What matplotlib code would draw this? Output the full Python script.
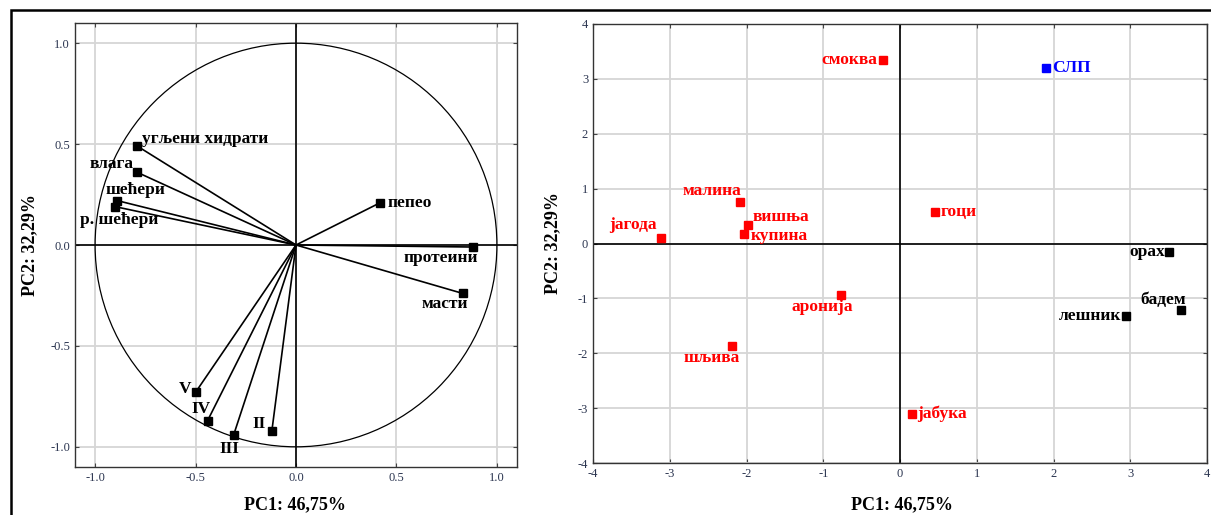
import matplotlib
matplotlib.use("Agg")
import matplotlib.pyplot as plt
import numpy as np
from matplotlib.patches import Circle, Rectangle

plt.rcParams["axes.unicode_minus"] = False

# loadings (left panel)
var_names = ["угљени хидрати", "влага", "шећери", "р. шећери", "пепео",
             "протеини", "масти", "V", "IV", "III", "II"]
var_pc1 = [-0.79, -0.79, -0.89, -0.90, 0.42, 0.88, 0.83, -0.50, -0.44, -0.31, -0.12]
var_pc2 = [0.49, 0.36, 0.22, 0.19, 0.21, -0.01, -0.24, -0.73, -0.87, -0.94, -0.92]

# scores (right panel)
obs_names = ["смоква", "СЛП", "малина", "вишња", "купина", "јагода", "гоци",
             "орах", "бадем", "лешник", "аронија", "шљива", "јабука"]
obs_pc1 = [-0.22, 1.90, -2.09, -1.98, -2.03, -3.11, 0.46, 3.50, 3.66, 2.95, -0.77, -2.19, 0.16]
obs_pc2 = [3.34, 3.19, 0.75, 0.34, 0.18, 0.10, 0.57, -0.16, -1.22, -1.33, -0.94, -1.87, -3.10]
obs_group = ["fruit", "slp", "fruit", "fruit", "fruit", "fruit", "fruit",
             "nut", "nut", "nut", "fruit", "fruit", "fruit"]

x_label = "PC1: 46,75%"
y_label = "PC2: 32,29%"

# label placement (pixel offsets, alignment)
var_lbl = {
    "угљени хидрати": (5, 7, "left"), "влага": (-4, 8, "right"),
    "шећери": (18, 11, "center"), "р. шећери": (4, -13, "center"),
    "пепео": (7, 0, "left"), "протеини": (5, -11, "right"),
    "масти": (5, -11, "right"), "V": (-4, 3, "right"), "IV": (3, 12, "right"),
    "III": (-4, -14, "center"), "II": (-6, 7, "right"),
}
obs_lbl = {
    "смоква": (-6, 0, "right"), "СЛП": (6, 0, "left"), "малина": (2, 11, "right"),
    "вишња": (5, 8, "left"), "купина": (6, -2, "left"), "јагода": (-5, 13, "right"),
    "гоци": (5, 0, "left"), "орах": (-4, 0, "right"), "бадем": (5, 10, "right"),
    "лешник": (-5, 0, "right"), "аронија": (-19, -12, "center"),
    "шљива": (8, -12, "right"), "јабука": (5, 0, "left"),
}
colors = {"fruit": "#ff0000", "slp": "#0000ff", "nut": "#000000"}

serif = "Liberation Serif"
tick_col = "#2b3550"

fig = plt.figure(figsize=(12.11, 5.15), dpi=100)

# outer frame (right/bottom edges fall outside the image)
fig.patches.append(Rectangle((11 / 1211, -0.05), 1.2, (505 / 515) + 0.05,
                             transform=fig.transFigure, fill=False,
                             edgecolor="black", linewidth=1.8))


def style_axes(ax):
    ax.grid(True, color="#d6d6d6", linewidth=1.3)
    ax.set_axisbelow(True)
    ax.tick_params(direction="in", length=3, top=True, right=True,
                   labelsize=9, labelcolor=tick_col, color="#444444")
    for lab in ax.get_xticklabels() + ax.get_yticklabels():
        lab.set_fontfamily(serif)
    for sp in ax.spines.values():
        sp.set_linewidth(1.0)
        sp.set_color("#333333")
    ax.axhline(0, color="black", linewidth=1.2, zorder=1)
    ax.axvline(0, color="black", linewidth=1.2, zorder=1)


# left panel: loadings
ax1 = fig.add_axes([75 / 1211, 1 - 467 / 515, 442 / 1211, 444 / 515])
ax1.set_xlim(-1.1, 1.1)
ax1.set_ylim(-1.1, 1.1)
ax1.set_xticks([-1.0, -0.5, 0.0, 0.5, 1.0])
ax1.set_yticks([-1.0, -0.5, 0.0, 0.5, 1.0])
ax1.xaxis.set_major_formatter(matplotlib.ticker.FormatStrFormatter("%.1f"))
ax1.yaxis.set_major_formatter(matplotlib.ticker.FormatStrFormatter("%.1f"))
style_axes(ax1)
ax1.add_patch(Circle((0, 0), 1.0, fill=False, edgecolor="black", linewidth=0.9, zorder=2))
for name, x, y in zip(var_names, var_pc1, var_pc2):
    ax1.plot([0, x], [0, y], color="black", linewidth=1.2, zorder=3)
    ax1.plot(x, y, marker="s", color="black", markersize=5.5, zorder=4)
    dx, dy, ha = var_lbl[name]
    ax1.annotate(name, (x, y), xytext=(dx, dy), textcoords="offset pixels",
                 ha=ha, va="center", fontsize=12.5, fontweight="bold",
                 family=serif, color="black", zorder=5)
ax1.set_xlabel(x_label, fontsize=13, fontweight="bold", family=serif)
ax1.set_ylabel(y_label, fontsize=13, fontweight="bold", family=serif)
ax1.xaxis.set_label_coords(0.498, -0.086)
ax1.xaxis.label.set_va("center")
ax1.yaxis.set_label_coords(-0.102, 0.5)
ax1.yaxis.label.set_va("center")

# right panel: scores
ax2 = fig.add_axes([593 / 1211, 1 - 463 / 515, 614 / 1211, 439 / 515])
ax2.set_xlim(-4, 4)
ax2.set_ylim(-4, 4)
ax2.set_xticks(range(-4, 5))
ax2.set_yticks(range(-4, 5))
style_axes(ax2)
for name, x, y, g in zip(obs_names, obs_pc1, obs_pc2, obs_group):
    c = colors[g]
    ax2.plot(x, y, marker="s", color=c, markersize=5.5, linestyle="none", zorder=4)
    dx, dy, ha = obs_lbl[name]
    ax2.annotate(name, (x, y), xytext=(dx, dy), textcoords="offset pixels",
                 ha=ha, va="center", fontsize=12.5, fontweight="bold",
                 family=serif, color=c, zorder=5)
ax2.set_xlabel(x_label, fontsize=13, fontweight="bold", family=serif)
ax2.set_ylabel(y_label, fontsize=13, fontweight="bold", family=serif)
ax2.xaxis.set_label_coords(0.503, -0.096)
ax2.xaxis.label.set_va("center")
ax2.yaxis.set_label_coords(-0.065, 0.5)
ax2.yaxis.label.set_va("center")

fig.savefig("out.png", dpi=100)
